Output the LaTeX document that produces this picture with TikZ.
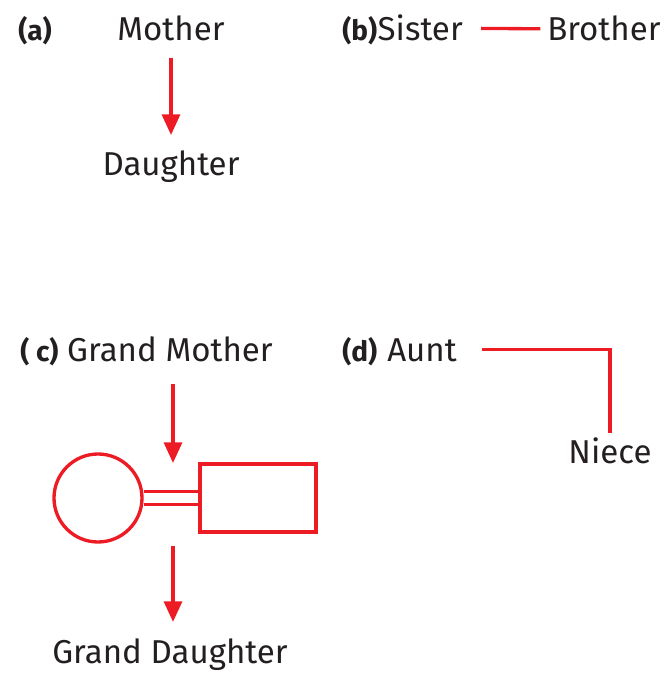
\documentclass[tikz,border=0pt]{standalone}
\usepackage{fontspec}
\setmainfont{Fira Sans}
\usetikzlibrary{arrows.meta,backgrounds}
\definecolor{rd}{HTML}{ED1C24}
\definecolor{tx}{HTML}{231F20}
\begin{document}
\begin{tikzpicture}[x=0.75pt,y=-0.75pt,
  lbl/.style={font=\fontsize{24.8}{28}\selectfont, text=tx, anchor=base, inner sep=0pt},
  tag/.style={lbl, anchor=base west, font=\fontsize{21}{25}\selectfont\bfseries},
  conn/.style={draw=rd, line width=2.5pt},
  arr/.style={conn, -{Triangle[length=15.5pt,width=13.5pt]}},
  ring/.style={circle, draw=rd, line width=2.5pt, minimum size=66pt, inner sep=0pt},
  block/.style={rectangle, draw=rd, line width=2.5pt, minimum width=87pt, minimum height=51pt, inner sep=0pt}]
\useasboundingbox (0,0) rectangle (664,673);
% (a)
\node[tag] (ta) at (18,41) {(a)};
\node[lbl] (mo) at (171,41) {Mother};
\node[lbl] (da) at (171,176) {Daughter};
\draw[arr, shorten <=12pt, shorten >=12pt] (mo.south) -- (da.north);
% (b)
\node[tag] (tb) at (342,41) {(b)};
\node[lbl, anchor=base west] (si) at (tb.base east) {Sister};
\node[lbl, anchor=base west] (br) at (547,41) {Brother};
\draw[conn, shorten <=13.5pt, shorten >=5pt] (si.east) -- (br.west);
% (c)
\node[tag] (tc) at (20,361) {( c)};
\node[lbl] (gm) at (170,361) {Grand Mother};
\node[ring] (ci) at (98,498) {};
\node[block] (re) at (258,498) {};
\begin{scope}[on background layer]
\draw[draw=rd, line width=2.5pt, double=white, double distance=7pt] (ci.east) -- (re.west);
\end{scope}
\coordinate (j1) at (173,463);
\coordinate (j2) at (173,546);
\node[lbl] (gd) at (170,663) {Grand Daughter};
\draw[arr, shorten <=17pt] (gm.south -| j1) -- (j1);
\draw[arr, shorten >=12pt] (j2) -- (j2 |- gd.north);
% (d)
\node[tag] (td) at (342,361) {(d)};
\node[lbl, anchor=base west] (au) at (387,361) {Aunt};
\node[lbl] (ni) at (610,463) {Niece};
\draw[conn, shorten <=19pt, shorten >=3pt] (au.east) -| (ni.north);
\end{tikzpicture}
\end{document}
